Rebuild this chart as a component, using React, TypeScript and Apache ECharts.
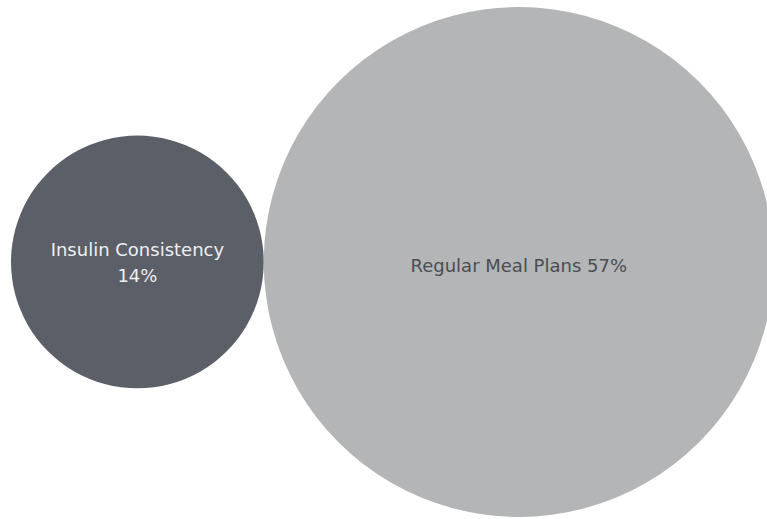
import React, { useEffect, useRef } from "react";
import * as echarts from "echarts";

const categories: string[] = ["Insulin Consistency", "Regular Meal Plans"];
const percentValues: number[] = [14, 57];
const bubbleColors: string[] = ["#5b5f67", "#b3b5b6"];
const labelColors: string[] = ["#eef0f2", "#4a4d53"];
const labelSeparators: string[] = ["\n", " "];

const W = 767;
const H = 519;
const MAX_RADIUS = 255;
const LEFT_PAD = 11;
const CENTER_Y = 262;

export default function App() {
  const ref = useRef<HTMLDivElement>(null);
  useEffect(() => {
    if (!ref.current) return;
    const chart = echarts.init(ref.current, null, { renderer: "svg" });
    const maxV = Math.max(...percentValues);
    const k = MAX_RADIUS / Math.sqrt(maxV);
    const radii = percentValues.map((v) => k * Math.sqrt(v));
    let cursor = LEFT_PAD;
    const data = percentValues.map((v, i) => {
      const cx = cursor + radii[i];
      cursor = cx + radii[i];
      return {
        name: categories[i],
        value: [cx, CENTER_Y, v],
        symbolSize: radii[i] * 2,
        itemStyle: { color: bubbleColors[i], opacity: 1 },
        label: {
          show: true,
          position: "inside",
          color: labelColors[i],
          fontFamily: "DejaVu Sans",
          fontSize: 18,
          lineHeight: 26,
          offset: [0, i === 0 ? 0 : 3],
          formatter: () => `${categories[i]}${labelSeparators[i]}${v}%`,
        },
      };
    });
    chart.setOption({
      animation: false,
      backgroundColor: "#ffffff",
      grid: { left: 0, right: 0, top: 0, bottom: 0 },
      xAxis: { type: "value", min: 0, max: W, show: false },
      yAxis: { type: "value", min: 0, max: H, inverse: true, show: false },
      series: [
        {
          type: "scatter",
          symbol: "circle",
          data,
          emphasis: { disabled: true },
        },
      ],
    });
    return () => chart.dispose();
  }, []);
  return (
    <div
      ref={ref}
      style={{ position: "fixed", left: 0, top: 0, width: W, height: H }}
    />
  );
}
